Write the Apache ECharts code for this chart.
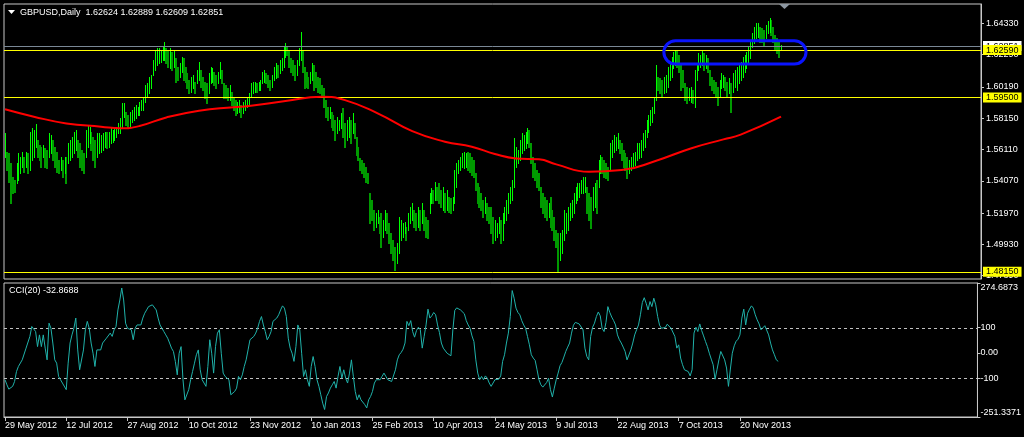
<!DOCTYPE html>
<html><head><meta charset="utf-8">
<script src="https://cdn.jsdelivr.net/npm/echarts@6/dist/echarts.min.js"></script>
<style>html,body{margin:0;padding:0;background:#000;}#c{width:1024px;height:437px;}</style>
</head><body><div id="c"></div>
<script>
// ---- data (prices stored as pips: price = 1 + v/10000) ----
const symbol = 'GBPUSD';
const period = 'Daily';
const lastOHLC = [1.62624, 1.62889, 1.62609, 1.62851];
const highs = [
5716,5597,5586,5521,5434,5412,5521,5586,5564,5597,
5564,5597,5586,5727,5749,5738,5775,5673,5640,5629,
5640,5619,5608,5716,5705,5673,5629,5597,5542,5564,
5542,5564,5564,5651,5673,5694,5727,5738,5673,5651,
5608,5586,5738,5771,5760,5727,5694,5673,5716,5716,
5705,5716,5727,5727,5727,5749,5738,5749,5760,5781,
5814,5912,5912,5857,5836,5857,5868,5890,5901,5890,
5923,5933,5955,6031,6042,6085,6096,6194,6259,6270,
6270,6259,6281,6309,6270,6259,6270,6248,6259,6205,
6151,6172,6216,6205,6151,6107,6064,6085,6096,6053,
6129,6181,6129,6085,6053,6042,6107,6151,6140,6118,
6096,6118,6181,6129,6042,6031,6009,6031,5988,5955,
5933,5923,5933,5901,5923,5933,5955,5977,6042,6053,
6053,6042,6053,6064,6118,6129,6107,6096,6064,6096,
6151,6172,6161,6194,6205,6281,6303,6281,6259,6205,
6194,6161,6194,6270,6374,6259,6151,6118,6085,6118,
6172,6161,6118,6085,6075,6031,6009,5933,5890,5890,
5857,5836,5803,5825,5803,5847,5879,5781,5803,5825,
5803,5847,5781,5694,5629,5553,5542,5521,5499,5456,
5325,5282,5217,5195,5217,5173,5195,5151,5217,5195,
5130,5065,5021,4978,4999,5173,5151,5130,5140,5108,
5195,5238,5260,5217,5195,5238,5217,5260,5217,5173,
5151,5325,5358,5347,5401,5369,5390,5347,5369,5325,
5347,5304,5293,5304,5477,5521,5542,5564,5586,5597,
5586,5597,5586,5564,5542,5456,5390,5369,5325,5282,
5304,5260,5238,5238,5173,5151,5130,5173,5151,5195,
5238,5282,5325,5369,5412,5684,5629,5608,5673,5716,
5705,5727,5749,5738,5651,5564,5521,5477,5456,5369,
5325,5304,5282,5260,5304,5217,5173,5086,5065,5065,
5086,5217,5195,5238,5260,5282,5325,5369,5390,5390,
5412,5434,5434,5369,5325,5304,5369,5390,5412,5542,
5575,5564,5542,5521,5499,5651,5673,5705,5694,5716,
5673,5651,5608,5586,5564,5542,5564,5586,5597,5651,
5651,5673,5716,5738,5803,5836,5868,5890,5955,6161,
6085,6075,6064,6085,6096,6151,6172,6216,6248,6259,
6259,6227,6172,6129,6042,6020,6009,6020,5999,6129,
6172,6237,6227,6259,6237,6227,6205,6129,6085,6064,
6053,6020,6064,6107,6096,6085,6053,6075,6042,6107,
6129,6151,6161,6183,6216,6227,6248,6281,6314,6368,
6411,6437,6433,6411,6400,6390,6422,6450,6466,6455,
6411,6357,6335,6324,6289];
const lows = [
5564,5477,5401,5260,5325,5336,5390,5412,5456,5499,
5466,5499,5456,5477,5542,5564,5629,5564,5542,5499,
5564,5499,5488,5564,5586,5542,5499,5466,5456,5477,
5434,5456,5390,5521,5542,5564,5586,5608,5564,5499,
5477,5456,5564,5629,5651,5608,5542,5499,5564,5586,
5597,5608,5629,5619,5629,5651,5662,5673,5694,5716,
5716,5760,5825,5771,5749,5760,5792,5803,5814,5836,
5836,5868,5868,5923,5955,5977,6009,6096,6129,6161,
6172,6183,6194,6194,6172,6151,6140,6129,6151,6053,
6064,6085,6118,6064,6053,6009,5977,5988,6009,5977,
6042,6064,6020,5999,5944,5912,5977,6042,6053,6031,
6009,6042,6075,6042,5944,5944,5933,5933,5901,5868,
5836,5847,5857,5825,5847,5868,5890,5901,5955,5977,
5988,5988,5999,5999,6042,6053,6042,6020,5999,6020,
6064,6075,6085,6107,6129,6151,6216,6227,6151,6118,
6096,6064,6096,6161,6194,6118,6009,6020,6009,6042,
6064,5999,6020,5988,5977,5955,5890,5825,5803,5814,
5760,5738,5673,5716,5738,5749,5694,5629,5673,5694,
5651,5716,5684,5575,5542,5477,5456,5434,5401,5390,
5130,5151,5086,5108,5130,5065,4978,5043,5086,5065,
4999,4934,4891,4826,4869,4934,5021,5043,5065,5021,
5086,5130,5151,5108,5086,5108,5086,5130,5086,5043,
5032,5195,5260,5260,5282,5282,5260,5238,5217,5206,
5217,5206,5195,5217,5260,5369,5456,5477,5499,5488,
5499,5477,5466,5445,5434,5347,5260,5238,5217,5173,
5195,5151,5130,5065,4999,5021,5043,5065,4999,5021,
5130,5151,5195,5260,5282,5369,5499,5521,5542,5586,
5608,5619,5651,5629,5521,5434,5412,5369,5347,5238,
5195,5173,5151,5173,5108,5086,5021,4978,4814,4891,
4934,5021,5065,5086,5151,5173,5195,5260,5282,5304,
5325,5325,5336,5195,5151,5097,5217,5238,5195,5369,
5456,5456,5434,5423,5412,5477,5564,5597,5608,5619,
5586,5542,5499,5477,5423,5456,5477,5488,5510,5542,
5553,5564,5608,5629,5694,5727,5771,5792,5847,5933,
5999,5977,5955,5977,5988,6020,6064,6085,6140,6161,
6151,6118,5999,6020,5933,5912,5933,5923,5912,5890,
6064,6129,6151,6161,6129,6140,6118,6031,5999,5977,
5955,5901,5955,6009,6020,5999,5955,5977,5857,5988,
6020,5999,6042,6064,6085,6118,6140,6172,6205,6281,
6303,6335,6346,6314,6314,6292,6335,6368,6379,6357,
6314,6259,6237,6211,6261];
const cci = [
-105,-125,-142,-144,-131,-112,-73,-53,-46,-27,
-20,19,12,65,104,110,84,25,71,25,
71,19,-27,117,97,39,-27,-40,-92,-105,
-118,-112,-144,-40,39,71,97,137,12,-66,
-66,12,91,124,97,39,-1,-53,12,19,
12,39,45,58,65,78,65,91,104,169,
208,255,208,117,97,104,91,52,97,110,
104,110,137,156,169,182,189,189,182,169,
137,110,97,84,71,58,39,19,6,-33,
-86,-1,25,-105,-184,-190,-144,-105,-73,-40,
-7,12,-66,-105,-118,-131,-53,52,-1,-79,
25,78,91,-1,-79,-92,-86,-105,-164,-171,
-151,-138,-92,-105,-86,-53,-27,12,52,58,
65,78,97,124,143,110,84,52,65,84,
124,117,137,150,169,185,176,143,58,19,
-1,-33,25,110,91,-1,-92,-66,-105,-131,
-53,-14,-53,-105,-131,-164,-197,-222,-171,-157,
-138,-125,-112,-138,-92,-53,-99,-66,-99,-118,
-79,-27,-92,-151,-184,-164,-184,-177,-203,-216,
-184,-171,-151,-118,-105,-99,-105,-92,-79,-92,
-105,-112,-112,-105,-66,-27,-7,2,15,39,
124,107,127,84,62,88,101,91,19,65,
110,172,137,146,159,150,110,80,39,19,
25,-1,6,-11,91,167,177,182,169,175,
154,127,110,97,67,45,-27,-79,-105,-92,
-105,-90,-99,-118,-131,-125,-105,-101,-103,-90,
-33,-7,39,78,143,245,215,176,159,150,
127,110,97,65,32,-7,-20,-29,-66,-105,
-125,-134,-138,-116,-99,-144,-173,-138,-105,-79,
-50,-37,-16,6,23,39,78,109,120,122,
114,117,91,19,-14,-27,65,101,117,143,
161,146,97,84,120,182,159,141,127,110,
71,52,39,23,6,-27,-20,12,39,71,
91,110,150,198,217,195,169,202,182,215,
189,143,109,97,93,100,113,110,97,91,
65,19,32,-20,-46,-66,-73,-73,-90,-66,
78,101,84,114,88,67,45,25,-1,-24,
-46,-103,-66,-27,6,10,-27,-59,-131,-63,
-1,28,46,54,71,137,172,110,156,172,
185,176,150,130,114,91,88,107,101,71,
39,12,-7,-27,-32.8688];
// 200-day moving average read at sample bars: [bar index, pips]
const maPoints = [[0,5873],[15,5825],[32,5781],[50,5760],[60,5749],[70,5764],[84,5820],[101,5864],[119,5886],[127,5894],[146,5927],[165,5955],[177,5933],[194,5847],[212,5731],[229,5662],[243,5629],[255,5582],[266,5553],[278,5547],[287,5514],[304,5466],[321,5477],[339,5538],[357,5618],[374,5677],[383,5708],[404,5825]];
const tickIndex = [0,32,64,96,128,160,192,224,256,288,320,352,384];
const tickLabels = ['29 May 2012','12 Jul 2012','27 Aug 2012','10 Oct 2012','23 Nov 2012','10 Jan 2013','25 Feb 2013','10 Apr 2013','24 May 2013','9 Jul 2013','22 Aug 2013','7 Oct 2013','20 Nov 2013'];
const priceTicks = [1.4789,1.4993,1.5197,1.5407,1.5611,1.5815,1.6019,1.6229,1.6433];
const cciTicks = [-251.3371,-100,0,100,274.6873];
const cciLevels = [100, -100];
const levels = [1.6259, 1.5950, 1.4815];
const zone = [343, 417, 1.6168, 1.6320]; // [from bar, to bar, low, high]
const cciPeriod = 20;

// ---- build ----
const FONT = '"Liberation Sans", Arial, sans-serif';
const FS = 9;
const toP = v => 1 + v / 10000;
const upData = [], downData = [];
highs.forEach((h, i) => {
  const prev = i > 0 ? highs[i-1] + lows[i-1] : h + lows[i];
  const row = [i, toP(h), toP(lows[i])];
  ((h + lows[i]) >= prev ? upData : downData).push(row);
});
const XMIN = -0.52, XMAX = 508.1;
const chart = echarts.init(document.getElementById('c'), null, {renderer: 'canvas'});
const txt = {color: '#ffffff', fontSize: FS, fontFamily: FONT, fontWeight: 'normal'};
const frame = '#c8c8c8';
function barSeries(name, data, color, w, z) {
  return {type: 'custom', name: name, xAxisIndex: 0, yAxisIndex: 0, z: z,
    encode: {x: 0, y: [1, 2]}, data: data, silent: true,
    renderItem: function (params, api) {
      const x = api.value(0);
      const a = api.coord([x, api.value(1)]), b = api.coord([x, api.value(2)]);
      const px = Math.round(a[0]) + (w % 2 ? 0.5 : 0);
      return {type: 'line', shape: {x1: px, y1: Math.round(a[1]), x2: px, y2: Math.round(b[1]) + 1},
              style: {stroke: color, fill: null, lineWidth: w}};
    }};
}
// crisp full-width horizontal lines
function hLineSeries(name, xi, yi, data, color, dash, z) {
  return {type: 'custom', name: name, xAxisIndex: xi, yAxisIndex: yi, z: z, silent: true,
    data: data.map(v => [0, v]), encode: {y: 1},
    renderItem: function (params, api) {
      const cs = params.coordSys;
      const y = Math.round(api.coord([0, api.value(1)])[1]) + 0.5;
      return {type: 'line', shape: {x1: cs.x, y1: y, x2: cs.x + cs.width, y2: y},
              style: {stroke: color, lineWidth: 1, lineDash: dash || null}};
    }};
}
chart.setOption({
  backgroundColor: '#000000',
  animation: false,
  title: [
    {text: symbol + ',' + period + '  ' + lastOHLC.map(v => v.toFixed(5)).join(' '), left: 20, top: 7, padding: 0, textStyle: Object.assign({lineHeight: 12}, txt)},
    {text: 'CCI(' + cciPeriod + ') ' + cci[cci.length-1].toFixed(4), left: 9, top: 285, padding: 0, textStyle: Object.assign({lineHeight: 12}, txt)}
  ],
  graphic: [
    {type: 'polygon', shape: {points: [[8,10],[15,10],[11.5,14]]}, style: {fill: '#ffffff'}},
    {type: 'polygon', shape: {points: [[779,4],[790,4],[784.5,9]]}, style: {fill: '#8c96a0'}}
  ],
  grid: [
    {left: 4, right: 43, top: 4, height: 275, show: true, borderColor: frame, borderWidth: 1},
    {left: 4, right: 43, top: 283, height: 134, show: true, borderColor: frame, borderWidth: 1}
  ],
  xAxis: [
    {gridIndex: 0, type: 'value', min: XMIN, max: XMAX, show: false},
    {gridIndex: 1, type: 'value', min: XMIN, max: XMAX, splitLine: {show: false},
     axisLine: {show: true, onZero: false, lineStyle: {color: frame}},
     axisTick: {show: true, customValues: tickIndex, length: 4, lineStyle: {color: frame}},
     axisLabel: Object.assign({customValues: tickIndex, align: 'left', margin: 4,
       formatter: v => tickLabels[tickIndex.indexOf(Math.round(v))] || ''}, txt)}
  ],
  yAxis: [
    {gridIndex: 0, type: 'value', position: 'right', min: 1.47674, max: 1.6559,
     splitLine: {show: false}, axisLine: {show: true, onZero: false, lineStyle: {color: frame}},
     axisTick: {show: true, customValues: priceTicks, length: 3, lineStyle: {color: frame}},
     axisLabel: Object.assign({customValues: priceTicks, margin: 5, formatter: v => v.toFixed(5)}, txt)},
    {gridIndex: 1, type: 'value', position: 'right', min: cciTicks[0], max: cciTicks[cciTicks.length-1],
     splitLine: {show: false}, axisLine: {show: true, onZero: false, lineStyle: {color: frame}},
     axisTick: {show: true, customValues: cciTicks, length: 3, lineStyle: {color: frame}},
     axisLabel: Object.assign({customValues: cciTicks, margin: 3,
       verticalAlignMaxLabel: 'top', verticalAlignMinLabel: 'bottom',
       formatter: v => v === 0 ? '0.00' : (Math.abs(v) === 100 ? String(v) : v.toFixed(4))}, txt)}
  ],
  series: [
    barSeries('down', downData, '#009a00', 2, 1),
    barSeries('up', upData, '#00ff00', 1, 2),
    hLineSeries('bid', 0, 0, [lastOHLC[3]], '#7a8896', null, 3),
    hLineSeries('levels', 0, 0, levels, '#ffff00', null, 3),
    {type: 'line', name: 'MA', xAxisIndex: 0, yAxisIndex: 0, z: 4, smooth: true, symbol: 'none',
     data: maPoints.map(p => [p[0], toP(p[1])]),
     lineStyle: {color: '#ff0000', width: 2},
     markLine: {silent: true, symbol: 'none', animation: false, precision: 5,
       lineStyle: {color: 'rgba(0,0,0,0)', width: 1, type: 'solid'},
       label: {show: true, position: 'end', distance: 2, fontSize: FS, fontFamily: FONT,
               padding: [1, 3, 0, 3], color: '#000', formatter: p => Number(p.value).toFixed(5)},
       data: [{yAxis: lastOHLC[3], label: {backgroundColor: '#ffffff'}}]
         .concat(levels.map(v => ({yAxis: v, label: {backgroundColor: '#ffff00'}})))}},
    {type: 'custom', name: 'zone', xAxisIndex: 0, yAxisIndex: 0, z: 5, data: [zone], silent: true,
     encode: {x: [0, 1], y: [2, 3]},
     renderItem: function (params, api) {
       const a = api.coord([api.value(0), api.value(3)]), b = api.coord([api.value(1), api.value(2)]);
       const h = b[1] - a[1];
       return {type: 'rect', shape: {x: a[0], y: a[1], width: b[0] - a[0], height: h, r: h / 2},
               style: {fill: 'none', stroke: '#0a14ff', lineWidth: 3}};
     }},
    hLineSeries('cciLevels', 1, 1, cciLevels, '#c0c0c0', [3, 3], 1),
    {type: 'line', name: 'CCI', xAxisIndex: 1, yAxisIndex: 1, symbol: 'none', z: 2,
     data: cci.map((v, i) => [i, v]), lineStyle: {color: '#20b2aa', width: 1}}
  ]
});
</script></body></html>
